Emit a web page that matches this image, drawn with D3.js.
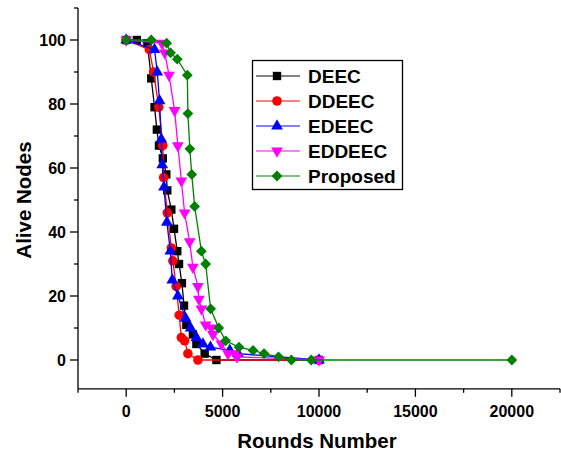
<!DOCTYPE html>
<html>
<head>
<meta charset="utf-8">
<script src="https://cdn.jsdelivr.net/npm/d3@7"></script>
<style>
  html, body { margin: 0; padding: 0; background: #fff; }
  svg { display: block; font-family: "Liberation Sans", Arial, sans-serif; }
</style>
</head>
<body>
<svg id="chart" width="561" height="455"></svg>
<script>
// ---- data ----
const seriesNames = ["DEEC", "DDEEC", "EDEEC", "EDDEEC", "Proposed"];
const deec = [[0,100],[550,100],[1100,99],[1300,88],[1470,79],[1590,72],[1700,67],[1900,63],[2080,58],[2130,53],[2340,47],[2480,41],[2650,34],[2740,30],[2890,24],[3000,17],[3120,11],[3460,8],[3640,5],[4070,2],[4680,0],[10000,0]];
const ddeec = [[0,100],[1200,97],[1420,90],[1690,79],[1900,67],[1940,57],[2130,46],[2340,35],[2420,31],[2590,23],[2750,14],[2860,7],[3030,6],[3200,2],[3720,0],[10000,0]];
const edeec = [[0,100],[1470,97],[1610,90],[1730,81],[1820,69],[1870,61],[1960,54],[2110,43],[2290,34],[2390,25],[2680,20],[3080,13],[3340,10],[3640,7],[3980,5],[4370,4],[5370,3],[5800,2],[10000,0]];
const eddeec = [[0,100],[1850,99],[2000,96],[2220,89],[2510,78],[2680,67],[2860,56],[3030,46],[3290,37],[3460,29],[3720,23],[3770,19],[3900,16],[4120,11],[4420,10],[4500,8],[4940,5],[5280,2],[5630,2],[5750,1],[10000,0]];
const proposed = [[0,100],[1300,100],[2100,99],[2300,96],[2650,94],[3170,89],[3200,77],[3300,66],[3400,58],[3550,48],[3900,34],[4120,30],[4380,16],[4800,10],[5160,6],[5850,4],[6580,3],[7150,2],[7900,1],[8570,0],[9600,0],[20000,0]];
const xMajorTicks = [0, 5000, 10000, 15000, 20000];
const xMinorTicks = [-2500, 2500, 7500, 12500, 17500, 22500];
const yMajorTicks = [0, 20, 40, 60, 80, 100];
const yMinorTicks = [10, 30, 50, 70, 90, 110];

const seriesData = [deec, ddeec, edeec, eddeec, proposed];
const colors = ["#000000", "#ff0000", "#0000ff", "#ff00ff", "#008000"];
const shapes = ["square", "circle", "triangle", "down", "diamond"];

// ---- layout ----
const svg = d3.select("#chart");
const x = d3.scaleLinear().domain([-2500, 22500]).range([78, 560]);
const y = d3.scaleLinear().domain([-9, 110]).range([388.8, 8]);

function markerPath(shape) {
  if (shape === "square") return d3.symbol(d3.symbolSquare, 70)();
  if (shape === "circle") return d3.symbol(d3.symbolCircle, 72)();
  if (shape === "triangle") return d3.symbol(d3.symbolTriangle, 60)();
  if (shape === "down") return d3.symbol(d3.symbolTriangle, 60)();
  return d3.symbol(d3.symbolSquare, 58)();
}
function markerRot(shape) {
  if (shape === "down") return 180;
  if (shape === "diamond") return 45;
  return 0;
}

// ---- axes ----
const gx = svg.append("g");
gx.append("line").attr("x1", x(-2500)).attr("x2", x(22500)).attr("y1", y(-9)).attr("y2", y(-9))
  .attr("stroke", "#000").attr("stroke-width", 1.3);
gx.selectAll(".xmaj").data(xMajorTicks).enter().append("line")
  .attr("x1", d => x(d)).attr("x2", d => x(d)).attr("y1", y(-9)).attr("y2", y(-9) + 8)
  .attr("stroke", "#000").attr("stroke-width", 1.3);
gx.selectAll(".xmin").data(xMinorTicks).enter().append("line")
  .attr("x1", d => x(d)).attr("x2", d => x(d)).attr("y1", y(-9)).attr("y2", y(-9) + 4)
  .attr("stroke", "#000").attr("stroke-width", 1.3);
gx.selectAll(".xlab").data(xMajorTicks).enter().append("text")
  .attr("x", d => x(d)).attr("y", 417).attr("text-anchor", "middle")
  .attr("font-size", 16).attr("font-weight", "bold").text(d => d);

const gy = svg.append("g");
gy.append("line").attr("x1", x(-2500)).attr("x2", x(-2500)).attr("y1", y(-9)).attr("y2", y(110))
  .attr("stroke", "#000").attr("stroke-width", 1.3);
gy.selectAll(".ymaj").data(yMajorTicks).enter().append("line")
  .attr("x1", x(-2500) - 8).attr("x2", x(-2500)).attr("y1", d => y(d)).attr("y2", d => y(d))
  .attr("stroke", "#000").attr("stroke-width", 1.3);
gy.selectAll(".ymin").data(yMinorTicks).enter().append("line")
  .attr("x1", x(-2500) - 4).attr("x2", x(-2500)).attr("y1", d => y(d)).attr("y2", d => y(d))
  .attr("stroke", "#000").attr("stroke-width", 1.3);
gy.selectAll(".ylab").data(yMajorTicks).enter().append("text")
  .attr("x", 66).attr("y", d => y(d) + 6).attr("text-anchor", "end")
  .attr("font-size", 16).attr("font-weight", "bold").text(d => d);

svg.append("text").attr("x", x(10000) - 2).attr("y", 448).attr("text-anchor", "middle")
  .attr("font-size", 20.5).attr("font-weight", "bold").text("Rounds Number");
svg.append("text").attr("transform", "translate(31," + y(50) + ") rotate(-90)")
  .attr("text-anchor", "middle").attr("font-size", 20.5).attr("font-weight", "bold").text("Alive Nodes");

// ---- series ----
const line = d3.line().x(d => x(d[0])).y(d => y(d[1]));
seriesData.forEach((data, i) => {
  const g = svg.append("g");
  g.append("path").datum(data).attr("d", line).attr("fill", "none")
    .attr("stroke", colors[i]).attr("stroke-width", 1.3);
  g.selectAll("path.m").data(data).enter().append("path").attr("class", "m")
    .attr("d", markerPath(shapes[i]))
    .attr("transform", d => "translate(" + x(d[0]) + "," + y(d[1]) + ") rotate(" + markerRot(shapes[i]) + ")")
    .attr("fill", colors[i]);
});

// ---- legend ----
const lg = svg.append("g");
lg.append("rect").attr("x", 252.5).attr("y", 60.5).attr("width", 150).attr("height", 129)
  .attr("fill", "#fff").attr("stroke", "#000").attr("stroke-width", 1.3);
seriesNames.forEach((name, i) => {
  const ly = 76 + i * 25;
  lg.append("line").attr("x1", 256).attr("x2", 300).attr("y1", ly).attr("y2", ly)
    .attr("stroke", colors[i]).attr("stroke-width", 1.3).attr("opacity", 0.65);
  lg.append("path").attr("d", markerPath(shapes[i]))
    .attr("transform", "translate(277," + ly + ") rotate(" + markerRot(shapes[i]) + ")")
    .attr("fill", colors[i]);
  lg.append("text").attr("x", 308).attr("y", ly + 7).attr("font-size", 19)
    .attr("font-weight", "bold").text(name);
});
</script>
</body>
</html>
